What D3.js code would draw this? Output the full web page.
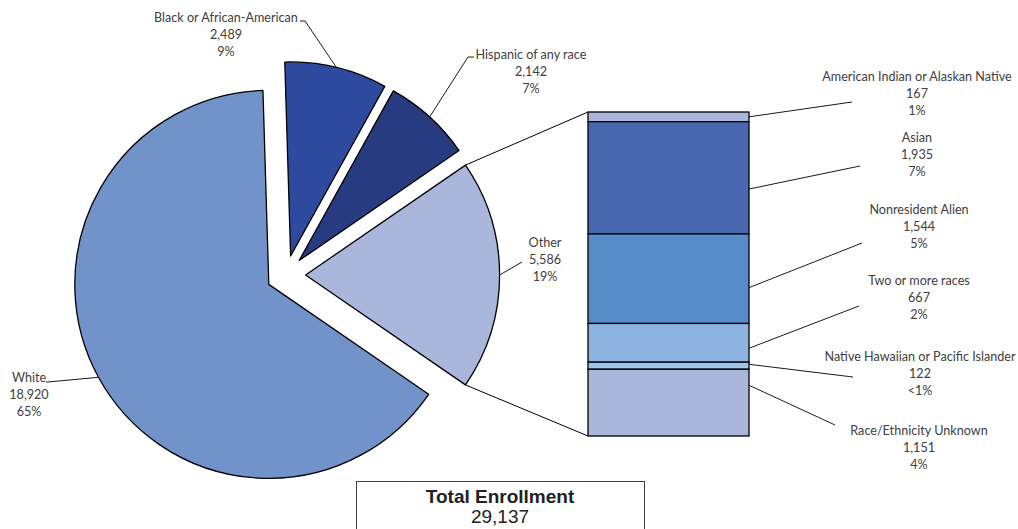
<!DOCTYPE html>
<html><head><meta charset="utf-8">
<script src="https://cdn.jsdelivr.net/npm/d3@7/dist/d3.min.js"></script>
<style>
html,body{margin:0;padding:0;background:#fff;}
svg{display:block;}
</style></head>
<body>
<svg id="chart" width="1018" height="529"></svg>
<script>
// ---- data ----
const pieCategories = ["Black or African-American", "Hispanic of any race", "Other", "White"];
const pieValues = [2489, 2142, 5586, 18920];
const piePercents = ["9%", "7%", "19%", "65%"];
const barCategories = ["American Indian or Alaskan Native", "Asian", "Nonresident Alien", "Two or more races", "Native Hawaiian or Pacific Islander", "Race/Ethnicity Unknown"];
const barValues = [167, 1935, 1544, 667, 122, 1151];
const barPercents = ["1%", "7%", "5%", "2%", "<1%", "4%"];
const totalLabel = "Total Enrollment";
const totalValue = 29137;

// ---- styles / layout ----
const pieColors = ["#2D4A9E", "#263B80", "#A9B7DC", "#7292CA"];
const barColors = ["#A9B7DC", "#4967AE", "#578CC8", "#8DB3E0", "#9DC6EA", "#A9B7DC"];
const textColor = "#404040";
const fontFam = "Lato, 'Open Sans', sans-serif";
const fontSize = 12.6;
const cx = 286, cy = 275, R = 194, explode = 19.6;
const barX0 = 588, barX1 = 749, barY0 = 112, barY1 = 436;

const svg = d3.select("#chart");
const fmt = d3.format(",");
const total = d3.sum(pieValues);

// rotate so "Other" slice is centered at 90deg (right)
const otherIdx = 2;
const before = d3.sum(pieValues.slice(0, otherIdx)) + pieValues[otherIdx] / 2;
const start = Math.PI / 2 - before / total * 2 * Math.PI;

const pie = d3.pie().sort(null).value(d => d).startAngle(start).endAngle(start + 2 * Math.PI);
const arcs = pie(pieValues);
const arc = d3.arc().innerRadius(0).outerRadius(R);

function offset(a) {
  const m = (a.startAngle + a.endAngle) / 2;
  return [explode * Math.sin(m), -explode * Math.cos(m)];
}
function outerAt(a, ang) {
  const o = offset(a);
  return [cx + o[0] + R * Math.sin(ang), cy + o[1] - R * Math.cos(ang)];
}
function outerMid(a) { return outerAt(a, (a.startAngle + a.endAngle) / 2); }

const gPie = svg.append("g");
gPie.selectAll("path").data(arcs).join("path")
  .attr("d", arc)
  .attr("transform", d => { const o = offset(d); return `translate(${cx + o[0]},${cy + o[1]})`; })
  .attr("fill", (d, i) => pieColors[i])
  .attr("stroke", "#000").attr("stroke-width", 1.3).attr("stroke-linejoin", "round");

// connector lines from Other slice to bar
const oa = arcs[otherIdx];
const pTop = outerAt(oa, oa.startAngle), pBot = outerAt(oa, oa.endAngle);
svg.append("line").attr("x1", pTop[0]).attr("y1", pTop[1]).attr("x2", barX0).attr("y2", barY0)
  .attr("stroke", "#000").attr("stroke-width", 1);
svg.append("line").attr("x1", pBot[0]).attr("y1", pBot[1]).attr("x2", barX0).attr("y2", barY1)
  .attr("stroke", "#000").attr("stroke-width", 1);

// bar
const y = d3.scaleLinear().domain([0, d3.sum(barValues)]).range([barY0, barY1]);
const cum = d3.cumsum(barValues);
const segs = barValues.map((v, i) => ({ v, y0: cum[i] - v, y1: cum[i], i }));
svg.append("g").selectAll("rect").data(segs).join("rect")
  .attr("x", barX0).attr("width", barX1 - barX0)
  .attr("y", d => y(d.y0)).attr("height", d => y(d.y1) - y(d.y0))
  .attr("fill", d => barColors[d.i])
  .attr("stroke", "#000").attr("stroke-width", 1.3);

// labels
function label(x, yTop, lines, anchor) {
  const t = svg.append("text").attr("font-family", fontFam).attr("font-size", fontSize)
    .attr("fill", textColor).attr("text-anchor", anchor || "middle");
  lines.forEach((s, k) => t.append("tspan").attr("x", x).attr("y", yTop + k * 16.8).text(s));
}
function poly(pts) {
  svg.append("path").attr("d", d3.line()(pts)).attr("fill", "none")
    .attr("stroke", "#000").attr("stroke-width", 0.9);
}

// pie label layout: text center x, first baseline y, leader knee points
const pieLabelPos = [
  { x: 226, y: 22, knee: [[305, 21], [300, 21]] },
  { x: 531, y: 59, knee: [[468, 57], [474, 57]] },
  { x: 545, y: 247, knee: [[522, 262]] },
  { x: 29, y: 382, knee: [[48, 382], [46, 382]] }
];
arcs.forEach((a, i) => {
  const L = pieLabelPos[i];
  label(L.x, L.y, [pieCategories[i], fmt(pieValues[i]), piePercents[i]]);
  poly([outerMid(a)].concat(L.knee));
});

// bar label layout
const barLabelPos = [
  { x: 917, y: 81, end: [852, 102], attach: 0.5 },
  { x: 917, y: 142, end: [860, 166], attach: 0.6 },
  { x: 919, y: 214, end: [862, 243], attach: 0.6 },
  { x: 919, y: 285, end: [859, 306], attach: 0.64 },
  { x: 920, y: 361, end: [853, 377], attach: 0.3 },
  { x: 919, y: 435, end: [835, 425], attach: 0.24 }
];
segs.forEach((s, i) => {
  const L = barLabelPos[i];
  label(L.x, L.y, [barCategories[i], fmt(barValues[i]), barPercents[i]]);
  const ay = y(s.y0) + (y(s.y1) - y(s.y0)) * L.attach;
  poly([[barX1, ay], L.end]);
});

// total box
svg.append("rect").attr("x", 356.5).attr("y", 481.5).attr("width", 288).attr("height", 60)
  .attr("fill", "#fff").attr("stroke", "#404040").attr("stroke-width", 1);
svg.append("text").attr("x", 500).attr("y", 502.5).attr("text-anchor", "middle")
  .attr("font-family", "'Liberation Sans', Arial, sans-serif").attr("font-size", 19).attr("font-weight", "bold")
  .attr("fill", "#222").text(totalLabel);
svg.append("text").attr("x", 500).attr("y", 523).attr("text-anchor", "middle")
  .attr("font-family", "'Liberation Sans', Arial, sans-serif").attr("font-size", 19)
  .attr("fill", "#222").text(fmt(totalValue));
</script>
</body></html>
